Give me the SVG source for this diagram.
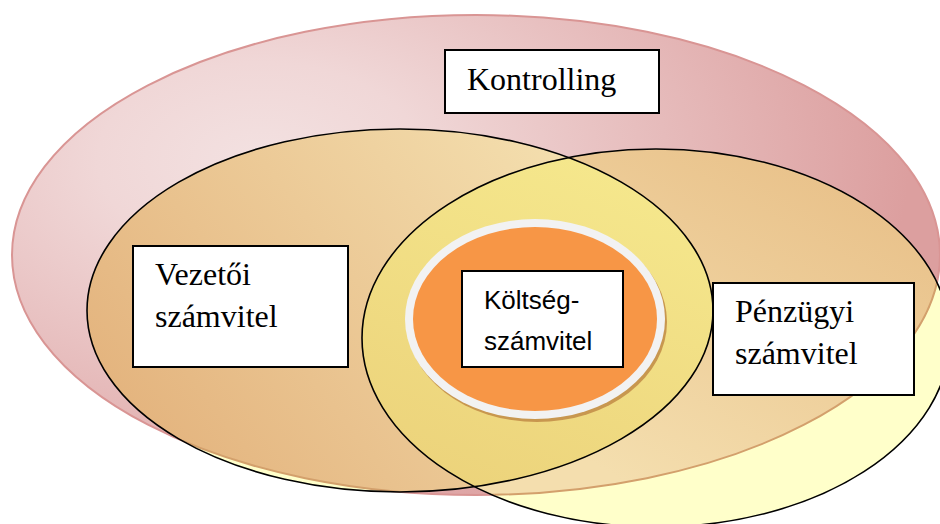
<svg xmlns="http://www.w3.org/2000/svg" width="940" height="524" viewBox="0 0 940 524">
  <defs>
    <radialGradient id="pinkFill" gradientUnits="userSpaceOnUse" cx="260" cy="160" r="650" gradientTransform="translate(260 160) scale(1 0.6) translate(-260 -160)">
      <stop offset="0" stop-color="#f3e1e1"/>
      <stop offset="0.25" stop-color="#f0d7d7"/>
      <stop offset="1" stop-color="#dc9f9f"/>
    </radialGradient>
    <linearGradient id="tanV" gradientUnits="userSpaceOnUse" x1="600" y1="130" x2="150" y2="480">
      <stop offset="0" stop-color="#f5e2b2"/>
      <stop offset="1" stop-color="#e3b27c"/>
    </linearGradient>
    <linearGradient id="tanQ" gradientUnits="userSpaceOnUse" x1="820" y1="170" x2="640" y2="490">
      <stop offset="0" stop-color="#e9c28b"/>
      <stop offset="1" stop-color="#f4deae"/>
    </linearGradient>
    <linearGradient id="yellowMix" gradientUnits="userSpaceOnUse" x1="580" y1="160" x2="440" y2="480">
      <stop offset="0" stop-color="#f5e78c"/>
      <stop offset="1" stop-color="#ecd37b"/>
    </linearGradient>
    <clipPath id="inPink"><ellipse cx="476" cy="255" rx="464" ry="240"/></clipPath>
    <clipPath id="inVez"><ellipse cx="400" cy="310.5" rx="313" ry="181.5"/></clipPath>
    <clipPath id="inVenn">
      <ellipse cx="400" cy="310.5" rx="313" ry="181.5"/>
      <ellipse cx="656" cy="338" rx="294" ry="189"/>
    </clipPath>
    <style>
      .box { fill: #ffffff; stroke: #000000; stroke-width: 2; }
      .serif { font-family: "Liberation Serif", "Times New Roman", serif; font-size: 32px; fill: #000000; }
      .sans { font-family: "Liberation Sans", Arial, sans-serif; font-size: 26px; fill: #000000; }
      .outline { fill: none; stroke: #000000; stroke-width: 1.6; }
    </style>
  </defs>

  <!-- outer field: Kontrolling -->
  <g id="kontrolling">
    <ellipse cx="476" cy="255" rx="464" ry="240" fill="url(#pinkFill)" stroke="#d99594" stroke-width="2"/>
  </g>

  <!-- the two overlapping accounting fields -->
  <g id="fields">
    <!-- base tint where the fields leave the outer ellipse -->
    <ellipse cx="656" cy="338" rx="294" ry="189" fill="#ffffca"/>
    <ellipse cx="400" cy="310.5" rx="313" ry="181.5" fill="#ffffca"/>
    <!-- tint inside the outer ellipse -->
    <g clip-path="url(#inPink)">
      <ellipse cx="656" cy="338" rx="294" ry="189" fill="url(#tanQ)"/>
      <ellipse cx="400" cy="310.5" rx="313" ry="181.5" fill="url(#tanV)"/>
    </g>
    <!-- overlap of both fields -->
    <g clip-path="url(#inVez)">
      <ellipse cx="656" cy="338" rx="294" ry="189" fill="url(#yellowMix)"/>
    </g>
    <!-- outer ellipse rim showing through -->
    <g clip-path="url(#inVenn)">
      <ellipse cx="476" cy="255" rx="464" ry="240" fill="none" stroke="#d3a06c" stroke-width="2"/>
    </g>
    <ellipse id="penzugyi-outline" cx="656" cy="338" rx="294" ry="189" class="outline" stroke="#1f1d0a"/>
    <ellipse id="vezetoi-outline" cx="400" cy="310.5" rx="313" ry="181.5" class="outline"/>
  </g>

  <!-- core: Költségszámvitel -->
  <g id="koltseg">
    <ellipse cx="537" cy="322" rx="130" ry="100" fill="#c8974f"/>
    <ellipse cx="535" cy="319" rx="130" ry="100" fill="#f2f2f2"/>
    <ellipse cx="535" cy="319" rx="122" ry="92" fill="#f79646"/>
    <rect class="box" x="462" y="271" width="161" height="96"/>
    <text class="sans" x="484" y="309">Költség-</text>
    <text class="sans" x="484" y="350">számvitel</text>
  </g>

  <g id="kontrolling-label">
    <rect class="box" x="445" y="50" width="214" height="63"/>
    <text class="serif" x="467" y="90">Kontrolling</text>
  </g>

  <g id="vezetoi">
    <rect class="box" x="133" y="246" width="215" height="121"/>
    <text class="serif" x="155" y="285">Vezetői</text>
    <text class="serif" x="155" y="327">számvitel</text>
  </g>

  <g id="penzugyi">
    <rect class="box" x="713" y="283" width="201" height="112"/>
    <text class="serif" x="735" y="322">Pénzügyi</text>
    <text class="serif" x="735" y="364">számvitel</text>
  </g>
</svg>
